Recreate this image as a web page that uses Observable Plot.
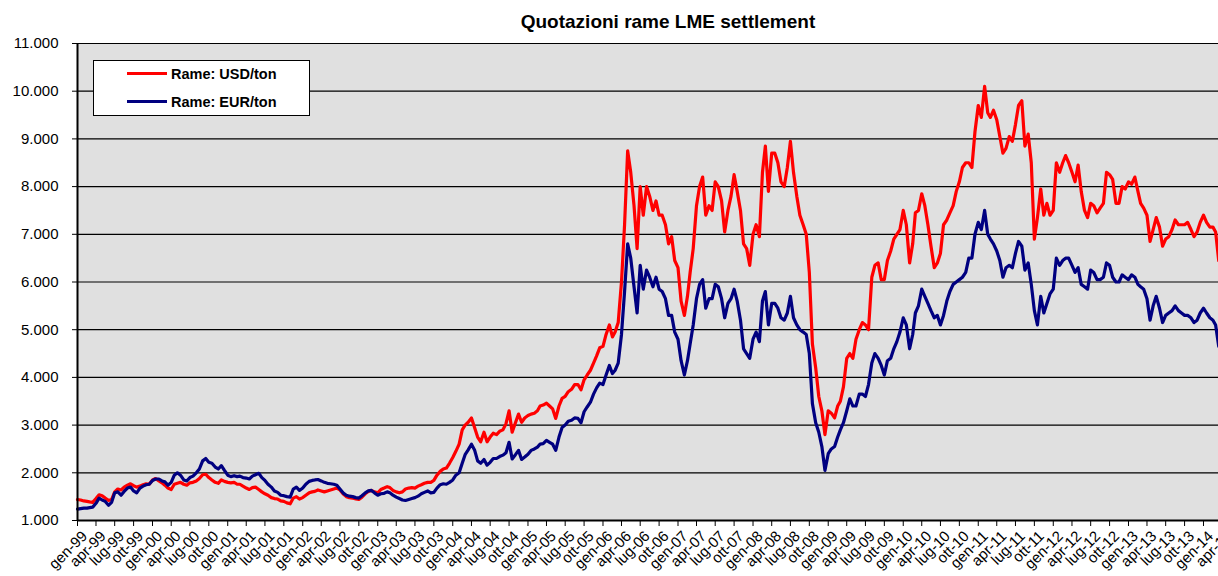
<!DOCTYPE html>
<html>
<head>
<meta charset="utf-8">
<script src="https://cdn.jsdelivr.net/npm/d3@7"></script>
<script src="https://cdn.jsdelivr.net/npm/@observablehq/plot@0.6"></script>
<style>
  body { margin: 0; background: #fff; }
  #wrap { position: relative; width: 1218px; height: 576px; overflow: hidden; background: #fff; font-family: "Liberation Sans", Arial, sans-serif; }
  #title { position: absolute; left: 0; top: 11px; width: 1336px; text-align: center; font-weight: bold; font-size: 19px; line-height: 22px; color: #000; }
  #chart { position: absolute; left: 0; top: 0; }
  #legend { position: absolute; left: 93px; top: 60px; width: 215px; height: 54px; border: 1.5px solid #000; background: #fff; }
  .row { position: absolute; left: 33px; height: 18px; display: flex; align-items: center; font-weight: bold; font-size: 14.5px; color: #000; }
  .sw { width: 40px; height: 3px; display: inline-block; }
  .lab { margin-left: 4px; }
</style>
</head>
<body>
<div id="wrap">
  <div id="chart"></div>
  <div id="title"></div>
  <div id="legend"></div>
</div>
<script>
const chartTitle = "Quotazioni rame LME settlement";
const seriesNames = ["Rame: USD/ton", "Rame: EUR/ton"];
const seriesColors = ["#ff0000", "#000080"];
const monthNames = ["gen","feb","mar","apr","mag","giu","lug","ago","set","ott","nov","dic"];
const halfMonthDays = [1, 16];
const yTicks = [1000,2000,3000,4000,5000,6000,7000,8000,9000,10000,11000];

// semi-monthly readings (1st and 16th of each month), Jan 1999 - Mar 2014
const usd = [
  // 1999
  1440,1430,1410,1400,1390,1380,1460,1540,1520,1470,1420,1440,1600,1660,1640,1700,1740,1770,1730,1700,1720,1750,1770,1760,
  // 2000
  1850,1880,1830,1790,1740,1680,1650,1760,1780,1800,1760,1740,1790,1800,1830,1880,1960,1970,1900,1850,1800,1780,1850,1820,
  // 2001
  1800,1790,1800,1760,1760,1720,1680,1650,1690,1700,1650,1600,1560,1530,1480,1460,1450,1410,1400,1370,1350,1470,1500,1450,
  // 2002
  1480,1530,1580,1600,1610,1640,1620,1600,1620,1640,1660,1680,1640,1560,1500,1480,1470,1450,1440,1490,1560,1610,1630,1600,
  // 2003
  1580,1650,1680,1710,1690,1630,1600,1580,1600,1660,1680,1690,1680,1720,1750,1780,1800,1800,1840,1950,2030,2080,2100,2200,
  // 2004
  2320,2450,2600,2900,3000,3060,3150,2950,2750,2650,2850,2650,2750,2830,2800,2870,2900,3030,3300,2850,3050,3230,3060,3150,
  // 2005
  3200,3230,3250,3300,3400,3420,3460,3400,3340,3140,3400,3560,3600,3700,3750,3850,3850,3740,3950,4050,4150,4300,4450,4620,
  // 2006
  4650,4900,5100,4850,4950,5150,6000,7200,8750,8300,7600,6700,8000,7400,8000,7800,7500,7700,7400,7400,7200,6800,6950,6450,
  // 2007
  6300,5600,5300,5700,6200,6700,7600,8000,8200,7400,7600,7500,8100,8000,7700,7050,7500,7800,8250,7900,7500,6800,6700,6350,
  // 2008
  7000,7200,6950,8300,8850,7900,8700,8700,8500,8100,8000,8400,8950,8300,7800,7400,7200,7000,6200,4700,4200,3600,3300,2800,
  // 2009
  3300,3250,3150,3400,3500,3800,4400,4500,4400,4800,5000,5150,5100,5000,6100,6350,6400,6050,6050,6450,6650,6900,7000,7100,
  // 2010
  7500,7200,6400,6800,7450,7500,7850,7600,7200,6750,6300,6400,6600,7200,7300,7450,7600,7900,8100,8400,8500,8500,8400,9150,
  // 2011
  9700,9450,10100,9550,9450,9600,9400,9050,8700,8800,9050,8950,9300,9700,9800,8850,9100,8500,6900,7350,7950,7400,7650,7400,
  // 2012
  7500,8500,8300,8500,8650,8500,8300,8100,8450,7900,7500,7350,7650,7600,7450,7550,7650,8300,8250,8150,7650,7650,8000,7950,
  // 2013
  8100,8050,8200,7900,7650,7550,7400,6850,7100,7350,7150,6750,6900,6950,7100,7300,7200,7200,7200,7250,7100,6950,7050,7250,
  // 2014
  7400,7250,7150,7150,7050,6450
];
const eur = [
  // 1999
  1240,1250,1260,1260,1270,1280,1360,1470,1430,1400,1320,1380,1580,1600,1530,1610,1680,1700,1620,1580,1680,1720,1750,1760,
  // 2000
  1840,1870,1870,1830,1810,1740,1800,1950,2000,1950,1850,1830,1900,1930,2000,2080,2250,2300,2220,2200,2120,2080,2150,2050,
  // 2001
  1950,1920,1940,1920,1930,1900,1890,1870,1930,1960,1990,1900,1840,1760,1700,1620,1590,1530,1520,1500,1490,1660,1700,1630,
  // 2002
  1680,1760,1820,1840,1850,1860,1830,1800,1780,1770,1760,1740,1660,1580,1530,1510,1500,1480,1470,1520,1580,1620,1630,1580,
  // 2003
  1530,1560,1570,1600,1580,1530,1490,1460,1430,1420,1440,1460,1480,1510,1560,1590,1620,1580,1590,1680,1750,1770,1760,1800,
  // 2004
  1850,1950,2000,2200,2380,2480,2600,2480,2250,2200,2280,2160,2220,2300,2300,2340,2370,2420,2640,2290,2380,2470,2280,2330,
  // 2005
  2390,2470,2500,2540,2600,2610,2680,2640,2600,2470,2750,2950,3000,3080,3100,3150,3140,3050,3280,3380,3480,3650,3780,3880,
  // 2006
  3850,4050,4250,4080,4150,4300,4900,5800,6800,6500,5900,5350,6350,5850,6250,6100,5900,6100,5850,5800,5650,5300,5300,4950,
  // 2007
  4800,4350,4050,4350,4700,5100,5650,5950,6050,5450,5650,5650,5950,5900,5650,5250,5550,5650,5850,5600,5200,4600,4500,4400,
  // 2008
  4800,4950,4750,5600,5800,5100,5550,5550,5450,5250,5200,5350,5700,5250,5100,5000,4950,4900,4500,3450,3050,2850,2550,2050,
  // 2009
  2400,2500,2550,2750,2900,3050,3300,3550,3400,3400,3650,3650,3600,3850,4300,4500,4400,4250,4050,4350,4400,4600,4750,4950,
  // 2010
  5250,5100,4600,4900,5350,5500,5850,5700,5550,5400,5250,5300,5100,5300,5600,5800,5950,6000,6050,6100,6200,6500,6500,7000,
  // 2011
  7250,7100,7500,7000,6900,6800,6650,6450,6100,6300,6350,6300,6600,6850,6750,6250,6400,5950,5400,5100,5700,5350,5550,5750,
  // 2012
  5850,6500,6350,6450,6500,6500,6350,6200,6300,5950,5900,5850,6250,6200,6050,6050,6100,6400,6350,6100,6000,6000,6150,6100,
  // 2013
  6050,6150,6100,5950,5900,5850,5650,5200,5500,5700,5450,5150,5300,5350,5400,5500,5400,5350,5300,5300,5250,5150,5200,5350,
  // 2014
  5450,5350,5250,5200,5100,4650
];

const xStart = new Date(Date.UTC(1999, 0, 1));
const xEnd = new Date(Date.UTC(2014, 2, 15));

const dates = [];
for (let y = 1999; y <= 2014; y++)
  for (let m = 0; m < 12; m++)
    for (const d of halfMonthDays) dates.push(new Date(Date.UTC(y, m, d)));
dates.length = usd.length;
const rows = dates.map((d, i) => ({date: d, usd: usd[i], eur: eur[i]}));

const quarters = d3.utcMonth.every(3).range(new Date(Date.UTC(1999, 0, 1)), new Date(Date.UTC(2014, 4, 1)));
const qLabel = d => monthNames[d.getUTCMonth()] + "-" + String(d.getUTCFullYear()).slice(2);

const fmt = d3.formatLocale({decimal: ",", thousands: ".", grouping: [3], currency: ["", ""]}).format(",d");

const chart = Plot.plot({
  width: 1218,
  height: 576,
  marginLeft: 77,
  marginRight: 0,
  marginTop: 43,
  marginBottom: 56,
  x: {type: "utc", domain: [xStart, xEnd]},
  y: {domain: [yTicks[0], yTicks[yTicks.length - 1]]},
  style: {fontFamily: "'Liberation Sans', Arial, sans-serif", fontSize: "15px", color: "#000", background: "transparent", overflow: "hidden"},
  marks: [
    Plot.frame({fill: "#e0e0e0", stroke: null}),
    Plot.ruleY(yTicks.slice(1), {stroke: "#000", strokeWidth: 1.2}),
    Plot.line(rows, {x: "date", y: "usd", stroke: seriesColors[0], strokeWidth: 3.2}),
    Plot.line(rows, {x: "date", y: "eur", stroke: seriesColors[1], strokeWidth: 3.2}),
    Plot.ruleX([xStart], {y1: yTicks[0], y2: yTicks[yTicks.length - 1], stroke: "#000", strokeWidth: 2}),
    Plot.ruleY([yTicks[0]], {stroke: "#000", strokeWidth: 2}),
    Plot.axisY({ticks: yTicks, tickSize: 5, tickPadding: 14, tickFormat: fmt, label: null, fontSize: 15, fill: "#000"}),
    Plot.axisX({ticks: quarters, tickSize: 6, tickFormat: () => "", label: null}),
    Plot.text(quarters, {x: d => d, text: qLabel, frameAnchor: "bottom", rotate: -45, textAnchor: "end", lineAnchor: "top", dx: 3, dy: 9, fontSize: 15, fill: "#000"})
  ]
});
document.getElementById("chart").appendChild(chart);

document.getElementById("title").textContent = chartTitle;
const legend = document.getElementById("legend");
const rowTops = [3.5, 31.5];
seriesNames.forEach((name, i) => {
  const r = document.createElement("div");
  r.className = "row";
  r.style.top = rowTops[i] + "px";
  const sw = document.createElement("span");
  sw.className = "sw";
  sw.style.background = seriesColors[i];
  const lab = document.createElement("span");
  lab.className = "lab";
  lab.textContent = name;
  r.appendChild(sw);
  r.appendChild(lab);
  legend.appendChild(r);
});
</script>
</body>
</html>
